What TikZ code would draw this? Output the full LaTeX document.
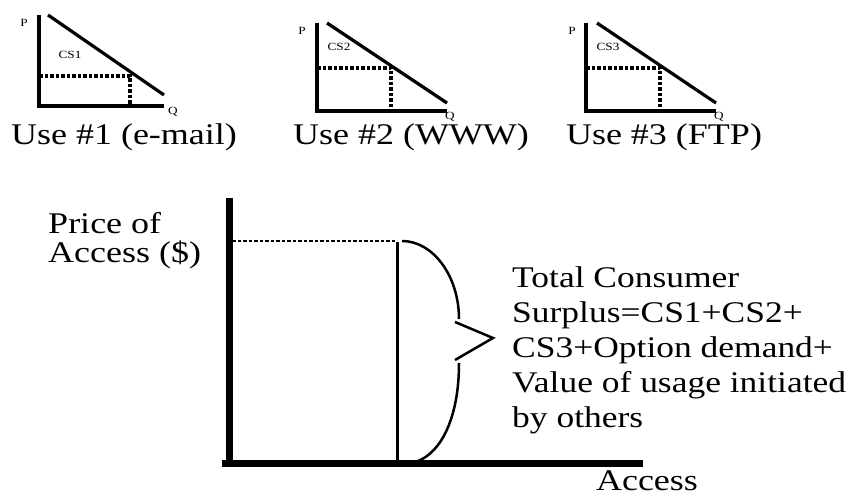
\documentclass[tikz,border=0pt]{standalone}
\usepackage{fontspec}
\setmainfont{Liberation Serif}

\begin{document}
\begin{tikzpicture}[x=1pt,y=-1pt,
  axis/.style={line width=3.2pt},
  bigaxis/.style={line width=7pt},
  guide/.style={line width=3.2pt,dash pattern=on 3.5pt off 2pt},
  biglabel/.style={font=\fontsize{30}{35}\selectfont,xscale=1.2,inner sep=0pt},
  smalllabel/.style={font=\fontsize{11}{13}\selectfont,xscale=1.2,inner sep=0pt}]
\useasboundingbox (0,0) rectangle (854,500);

% draw the small demand curve for use 1
\draw[axis] (39,15) -- (39,106) -- (164,106);
\draw[axis] (48,15) -- (164,95);
\draw[guide] (39,76) -- (130,76) -- (130,106);
\node[smalllabel] (p1) at (24,23) {P};
\node[smalllabel] (cs1) at (70,55) {CS1};
\node[smalllabel] (q1) at (173,112) {Q};

% draw the small demand curve for use 2
\draw[axis] (317,23) -- (317,111) -- (447,111);
\draw[axis] (327,23) -- (447,103);
\draw[guide] (317,68) -- (391,68) -- (391,111);
\node[smalllabel] (p2) at (302,31) {P};
\node[smalllabel] (cs2) at (339,47) {CS2};
\node[smalllabel] (q2) at (450,117) {Q};

% draw the small demand curve for use 3
\draw[axis] (586,23) -- (586,111) -- (716,111);
\draw[axis] (597,23) -- (716,103);
\draw[guide] (586,68) -- (660,68) -- (660,111);
\node[smalllabel] (p3) at (572,31) {P};
\node[smalllabel] (cs3) at (608,47) {CS3};
\node[smalllabel] (q3) at (719,117) {Q};

% names of the uses
\node[biglabel,anchor=base] (use1) at (124,145) {Use \#1 (e-mail)};
\node[biglabel,anchor=base] (use2) at (411,145) {Use \#2 (WWW)};
\node[biglabel,anchor=base] (use3) at (664,145) {Use \#3 (FTP)};

% draw the access market
\draw[bigaxis] (229,198) -- (229,466);
\draw[bigaxis] (222,463) -- (643,463);
\draw[line width=3pt] (397,242) -- (397,460);
\draw[line width=2.8pt,dash pattern=on 3.5pt off 2pt] (232,241) -- (397,241);

% draw the brace
\draw[line width=2.5pt] (402,241) .. controls (433,241) and (459,276) .. (459,319)
  (455,322) -- (493,338) -- (455,360)
  (459,363) .. controls (459,418) and (441,452) .. (418,461);

% axis names and surplus text
\node[biglabel,anchor=north west,align=left,font=\fontsize{30}{29}\selectfont] (price) at (48,212) {Price of\\Access (\$)};
\node[biglabel,anchor=base] (access) at (647,490) {Access};
\node[biglabel,anchor=north west,align=left,xscale=0.985] (surplus) at (512,266) {Total Consumer\\Surplus=CS1+CS2+\\CS3+Option demand+\\Value of usage initiated\\by others};

\end{tikzpicture}
\end{document}
